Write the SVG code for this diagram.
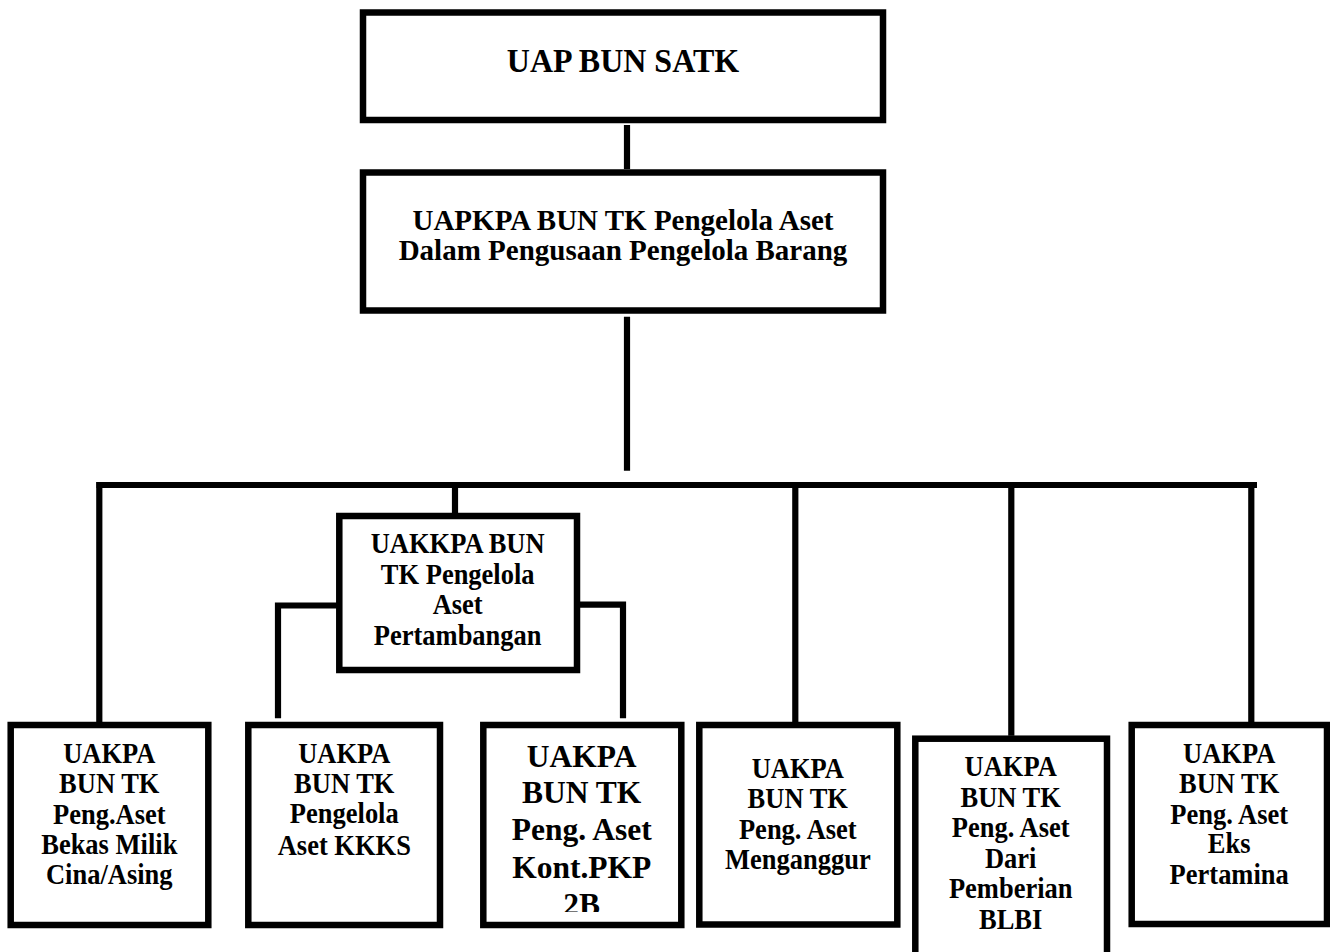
<svg xmlns="http://www.w3.org/2000/svg" width="1330" height="952" viewBox="0 0 1330 952">
<style>
.box{fill:#fff;stroke:#000;stroke-width:6.5}
.con{fill:none;stroke:#000;stroke-width:6.2;stroke-linecap:butt;stroke-linejoin:miter}
text{font-family:"Liberation Serif","Times New Roman",serif;font-weight:bold;fill:#000;text-anchor:middle}
.t1{font-size:32px}
.t2{font-size:29px}
.t3{font-size:26.5px}
.t4{font-size:31.5px}
</style>
<defs>
<clipPath id="clip3"><rect x="480" y="720" width="210" height="192"/></clipPath>
</defs>
<rect x="0" y="0" width="1330" height="952" fill="#fff"/>
<g id="connectors">
<line class="con" x1="627" y1="125" x2="627" y2="169"/>
<line class="con" x1="627" y1="316.7" x2="627" y2="470.7"/>
<line class="con" x1="96.5" y1="485" x2="1257" y2="485"/>
<line class="con" x1="99.3" y1="482" x2="99.3" y2="736.7"/>
<line class="con" x1="455" y1="482" x2="455" y2="516"/>
<line class="con" x1="795.3" y1="482" x2="795.3" y2="734.3"/>
<line class="con" x1="1011.3" y1="482" x2="1011.3" y2="735.7"/>
<line class="con" x1="1251.3" y1="482" x2="1251.3" y2="736.7"/>
<path class="con" d="M339 605.5 H278 V718.3"/>
<path class="con" d="M577 604.7 H623 V718.3"/>
</g>
<g id="node-uap">
<rect class="box" x="363" y="12.5" width="520" height="107.5"/>
<text class="t1" x="623" y="72" transform="matrix(1 0 0 1.05 0 -3.6)">UAP BUN SATK</text>
</g>
<g id="node-uapkpa">
<rect class="box" x="363" y="172.5" width="520" height="138"/>
<text class="t2" x="623" y="230">UAPKPA BUN TK Pengelola Aset</text>
<text class="t2" x="623" y="259.5">Dalam Pengusaan Pengelola Barang</text>
</g>
<g id="node-uakkpa">
<rect class="box" x="339.3" y="516" width="237.7" height="154"/>
<text class="t3" x="457.7" y="553.3" transform="matrix(1 0 0 1.1 0 -55.33)">UAKKPA BUN</text>
<text class="t3" x="457.7" y="584" transform="matrix(1 0 0 1.1 0 -58.4)">TK Pengelola</text>
<text class="t3" x="457.7" y="614" transform="matrix(1 0 0 1.1 0 -61.4)">Aset</text>
<text class="t3" x="457.7" y="645" transform="matrix(1 0 0 1.1 0 -64.5)">Pertambangan</text>
</g>
<g id="node-cina">
<rect class="box" x="10.7" y="725" width="197.6" height="200"/>
<text class="t3" x="109.3" y="762.7" transform="matrix(1 0 0 1.1 0 -76.27)">UAKPA</text>
<text class="t3" x="109.3" y="793.3" transform="matrix(1 0 0 1.1 0 -79.33)">BUN TK</text>
<text class="t3" x="109.3" y="824" transform="matrix(1 0 0 1.1 0 -82.4)">Peng.Aset</text>
<text class="t3" x="109.3" y="854" transform="matrix(1 0 0 1.1 0 -85.4)">Bekas Milik</text>
<text class="t3" x="109.3" y="884.3" transform="matrix(1 0 0 1.1 0 -88.43)">Cina/Asing</text>
</g>
<g id="node-kkks">
<rect class="box" x="248.3" y="725" width="191.7" height="200"/>
<text class="t3" x="344.3" y="762.7" transform="matrix(1 0 0 1.1 0 -76.27)">UAKPA</text>
<text class="t3" x="344.3" y="793" transform="matrix(1 0 0 1.1 0 -79.3)">BUN TK</text>
<text class="t3" x="344.3" y="823.3" transform="matrix(1 0 0 1.1 0 -82.33)">Pengelola</text>
<text class="t3" x="344.3" y="855" transform="matrix(1 0 0 1.1 0 -85.5)">Aset KKKS</text>
</g>
<g id="node-pkp2b">
<rect class="box" x="483.3" y="725" width="198" height="200"/>
<g clip-path="url(#clip3)">
<text class="t4" x="581.7" y="766.7">UAKPA</text>
<text class="t4" x="581.7" y="803.3">BUN TK</text>
<text class="t4" x="581.7" y="840">Peng. Aset</text>
<text class="t4" x="581.7" y="878.3">Kont.PKP</text>
<text class="t4" x="581.7" y="915">2B</text>
</g>
</g>
<g id="node-menganggur">
<rect class="box" x="699.3" y="725" width="198" height="199.5"/>
<text class="t3" x="797.8" y="778.3" transform="matrix(1 0 0 1.1 0 -77.83)">UAKPA</text>
<text class="t3" x="797.8" y="808.3" transform="matrix(1 0 0 1.1 0 -80.83)">BUN TK</text>
<text class="t3" x="797.8" y="839.3" transform="matrix(1 0 0 1.1 0 -83.93)">Peng. Aset</text>
<text class="t3" x="797.8" y="869.3" transform="matrix(1 0 0 1.1 0 -86.93)">Menganggur</text>
</g>
<g id="node-blbi">
<rect class="box" x="915.3" y="738.7" width="191.7" height="225"/>
<text class="t3" x="1010.7" y="776" transform="matrix(1 0 0 1.1 0 -77.6)">UAKPA</text>
<text class="t3" x="1010.7" y="806.7" transform="matrix(1 0 0 1.1 0 -80.67)">BUN TK</text>
<text class="t3" x="1010.7" y="837.3" transform="matrix(1 0 0 1.1 0 -83.73)">Peng. Aset</text>
<text class="t3" x="1010.7" y="867.7" transform="matrix(1 0 0 1.1 0 -86.77)">Dari</text>
<text class="t3" x="1010.7" y="898.3" transform="matrix(1 0 0 1.1 0 -89.83)">Pemberian</text>
<text class="t3" x="1010.7" y="929" transform="matrix(1 0 0 1.1 0 -92.9)">BLBI</text>
</g>
<g id="node-pertamina">
<rect class="box" x="1131.7" y="725" width="195.3" height="199"/>
<text class="t3" x="1229.2" y="762.7" transform="matrix(1 0 0 1.1 0 -76.27)">UAKPA</text>
<text class="t3" x="1229.2" y="793.3" transform="matrix(1 0 0 1.1 0 -79.33)">BUN TK</text>
<text class="t3" x="1229.2" y="824" transform="matrix(1 0 0 1.1 0 -82.4)">Peng. Aset</text>
<text class="t3" x="1229.2" y="853.3" transform="matrix(1 0 0 1.1 0 -85.33)">Eks</text>
<text class="t3" x="1229.2" y="884.3" transform="matrix(1 0 0 1.1 0 -88.43)">Pertamina</text>
</g>
</svg>
